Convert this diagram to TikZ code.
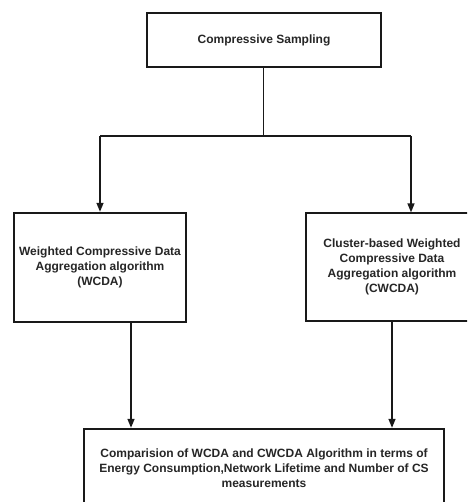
\documentclass[tikz,border=0pt]{standalone}
\usepackage{fontspec}
\setmainfont{Liberation Sans}
\usetikzlibrary{arrows.meta}
\begin{document}
\begin{tikzpicture}[x=1pt,y=-1pt,
  box/.style={draw=black!90, line width=2.4pt, rectangle, align=center,
    font=\bfseries\fontsize{12}{15}\selectfont, text=black!85, inner sep=0pt},
  thinbox/.style={box, line width=1.3pt},
  link/.style={draw=black!90, line width=1.4pt},
  arrow/.style={link, -{Triangle[length=9pt,width=7pt]}}]
\useasboundingbox (0,0) rectangle (467,502);
\clip (0,0) rectangle (467,502);
\fill[white] (0,0) rectangle (467,502);

% boxes
\node[box, minimum width=234pt, minimum height=54pt] (cs) at (264,40) {Compressive Sampling};
\node[box, minimum width=172pt, minimum height=109pt] (wcda) at (100,267.5)
  {Weighted Compressive Data\\Aggregation algorithm\\(WCDA)};
\node[thinbox, minimum width=172pt, minimum height=108pt] (cwcda) at (392,267)
  {Cluster-based Weighted\\Compressive Data\\Aggregation algorithm\\(CWCDA)};
\node[box, minimum width=360pt, minimum height=78pt] (cmp) at (264,468)
  {Comparision of WCDA and CWCDA Algorithm in terms of\\Energy Consumption,Network Lifetime and Number of CS\\measurements};

% branching connector
\coordinate (split) at (263.5,136);
\coordinate (bl) at (100,136);
\coordinate (br) at (411,136);
\draw[link] (cs.south -| split) -- (split);
\draw[link] (bl) -- (br);
\draw[arrow] (bl) -- (wcda.north);
\draw[arrow] (br) -- (br |- cwcda.north);

% merging into the comparison box
\coordinate (ml) at (131,322);
\coordinate (mr) at (392,322);
\draw[arrow] (ml |- wcda.south) -- (ml |- cmp.north);
\draw[arrow] (cwcda.south) -- (mr |- cmp.north);
\end{tikzpicture}
\end{document}
